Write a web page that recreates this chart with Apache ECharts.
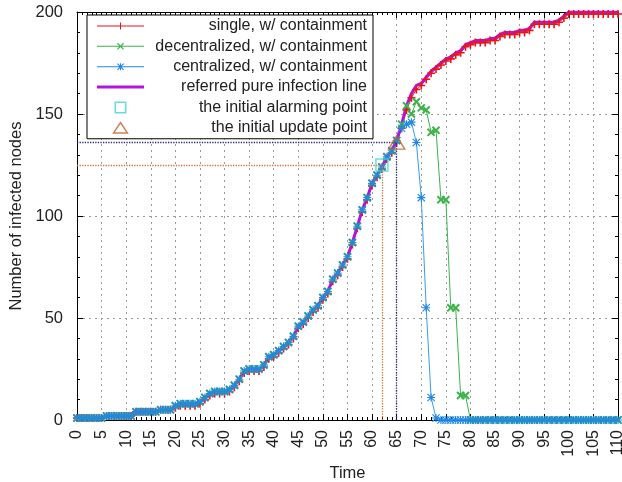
<!DOCTYPE html>
<html>
<head>
<meta charset="utf-8">
<script src="https://cdn.jsdelivr.net/npm/echarts@6/dist/echarts.min.js"></script>
<style>
  html, body { margin: 0; padding: 0; background: #fff; }
  #chart { width: 622px; height: 482px; }
</style>
</head>
<body>
<div id="chart"></div>
<script>
// infected node counts, one value per time step (t = 0..110)
const pureInfection = [
  1, 1, 1, 1, 1, 1, 2, 2, 2, 2, 2, 2, 4, 4, 4, 4, 4, 5, 5, 5,
  7, 8, 8, 8, 8, 9, 11, 13, 14, 14, 14, 15, 17, 20, 24, 25, 25, 25, 27, 31,
  32, 34, 36, 38, 41, 46, 48, 51, 54, 56, 60, 63, 69, 72, 76, 80, 87, 95, 103, 109,
  116, 120, 124, 129, 132, 137, 145, 154, 160, 164, 165, 168, 171, 173, 175, 177, 178, 180, 181, 184,
  185, 186, 186, 186, 187, 187, 189, 190, 190, 190, 191, 191, 192, 195, 195, 195, 195, 195, 196, 198,
  200, 200, 200, 200, 200, 200, 200, 200, 200, 200, 200
]
const singleContain = [
  1, 1, 1, 1, 1, 1, 2, 2, 2, 2, 2, 2, 4, 4, 4, 4, 4, 5, 5, 5,
  6, 7, 7, 7, 7, 8, 10, 12, 13, 13, 13, 14, 16, 19, 23, 24, 24, 24, 26, 30,
  31, 33, 35, 37, 40, 45, 47, 50, 53, 55, 59, 62, 68, 71, 75, 79, 86, 94, 102, 108,
  115, 119, 123, 128, 131, 136, 143, 152, 158, 162, 164, 167, 170, 172, 174, 176, 177, 179, 180, 183,
  184, 185, 185, 185, 186, 186, 188, 189, 189, 189, 190, 190, 191, 194, 194, 194, 194, 194, 195, 197,
  199, 199, 199, 199, 199, 199, 199, 199, 199, 199, 199
]
// containment runs follow the pure line until they split off
const decentralizedStart = 68
const decentralizedTail = [
  150, 156, 153, 152, 141, 142, 108, 108, 55, 55, 12, 12, 0, 0, 0, 0, 0, 0, 0, 0,
  0, 0, 0, 0, 0, 0, 0, 0, 0, 0, 0, 0, 0, 0, 0, 0, 0, 0, 0, 0,
  0, 0, 0
]
const centralizedStart = 66
const centralizedTail = [
  143, 145, 146, 136, 109, 55, 11, 1, 0, 0, 0, 0, 0, 0, 0, 0, 0, 0, 0, 0,
  0, 0, 0, 0, 0, 0, 0, 0, 0, 0, 0, 0, 0, 0, 0, 0, 0, 0, 0, 0,
  0, 0, 0, 0, 0
]
const alarmPoint = [62, 125]
const updatePoint = [65, 136]

const legendNames = [
  'single, w/ containment',
  'decentralized, w/ containment',
  'centralized, w/ containment',
  'referred pure infection line',
  'the initial alarming point',
  'the initial update point'
]

const decentralized = pureInfection.slice(0, decentralizedStart).concat(decentralizedTail)
const centralized = pureInfection.slice(0, centralizedStart).concat(centralizedTail)
const toPairs = arr => arr.map((v, t) => [t, v])

// marker glyphs
const plusPath = 'path://M4,0H6V4H10V6H6V10H4V6H0V4H4Z'
const starPath = 'path://M4.3,0H5.7V10H4.3Z M0,4.3H10V5.7H0Z M0,1L1,0L10,9L9,10Z M9,0L10,1L1,10L0,9Z'

// legend icons, drawn in a 47x20 box (corner points keep the box size)
const box = 'M0,0L0,0Z M47,20L47,20Z '
const thinLine = 'M0,9.5H47V10.5H0Z '
const vBar = 'M23,6.5H24V13.5H23Z '
const xBars = 'M20,7.3L20.8,6.5L27,12.7L26.2,13.5Z M26.2,6.5L27,7.3L20.8,13.5L20,12.7Z '
const legendIcons = [
  'path://' + box + thinLine + vBar,
  'path://' + box + thinLine + xBars,
  'path://' + box + thinLine + vBar + xBars,
  'path://' + box + 'M0,8.5H47V11.5H0Z',
  'path://' + box + 'M17.5,4H29.5V16H17.5Z M19,5.5V14.5H28V5.5Z',
  'path://' + box + 'M23.5,3.5L31.8,16H15.2Z M23.5,6.3L17.9,14.6H29.1Z'
]
const legendColors = ['#e8141c', '#3cb44a', '#2088e8', '#b414dc', '#3cd8d4', '#c0602a']

const labelColor = '#222'
const font = 'Liberation Sans, Arial, sans-serif'

const xBase = {
  type: 'value', min: 0, max: 110, interval: 5,
  axisLine: { show: true, onZero: false, lineStyle: { color: '#000', width: 1 } },
  axisTick: { show: true, inside: true, length: 6, lineStyle: { color: '#000' } },
  minorTick: { show: true, splitNumber: 5, length: 3, lineStyle: { color: '#000' } },
  splitLine: { show: false }
}
const yBase = {
  type: 'value', min: 0, max: 200, interval: 50,
  axisLine: { show: true, onZero: false, lineStyle: { color: '#000', width: 1 } },
  axisTick: { show: true, inside: true, length: 6, lineStyle: { color: '#000' } },
  minorTick: { show: true, splitNumber: 5, length: 3, lineStyle: { color: '#000' } },
  splitLine: { show: false }
}
const gridLine = { show: true, lineStyle: { color: '#9a9a9a', type: [2, 4], width: 1 } }

const chart = echarts.init(document.getElementById('chart'), null, { renderer: 'canvas' })
chart.setOption({
  animation: false,
  backgroundColor: '#fff',
  textStyle: { fontFamily: font },
  grid: { left: 77, right: 4, top: 12, bottom: 62, containLabel: false, outerBoundsMode: 'none' },
  legend: {
    orient: 'vertical',
    left: 87,
    top: 15,
    padding: [1, 6, 1, 10],
    backgroundColor: '#fff',
    borderColor: '#000',
    borderWidth: 1,
    borderRadius: 0,
    itemWidth: 47,
    itemHeight: 20,
    itemGap: 0.35,
    itemTextGap: 5,
    selectedMode: false,
    formatter: name => '{a|' + name + '}',
    textStyle: {
      fontFamily: font,
      fontSize: 16,
      color: labelColor,
      rich: { a: { width: 218, align: 'right', fontSize: 16, lineHeight: 20, color: labelColor, fontFamily: font } }
    },
    data: legendNames.map((name, i) => ({
      name: name,
      icon: legendIcons[i],
      itemStyle: { color: legendColors[i], borderWidth: 0, borderColor: 'transparent' }
    }))
  },
  xAxis: [
    Object.assign({}, xBase, {
      position: 'bottom',
      name: 'Time',
      nameLocation: 'middle',
      nameGap: 42,
      nameTextStyle: { fontSize: 16.5, color: labelColor, fontFamily: font },
      axisLabel: { rotate: 90, margin: 10, fontSize: 16, color: labelColor, fontFamily: font },
      splitLine: gridLine
    }),
    Object.assign({}, xBase, { position: 'top', axisLabel: { show: false } })
  ],
  yAxis: [
    Object.assign({}, yBase, {
      position: 'left',
      name: 'Number of infected nodes',
      nameLocation: 'middle',
      nameGap: 51,
      nameTextStyle: { fontSize: 16.5, color: labelColor, fontFamily: font },
      axisLabel: { margin: 14, fontSize: 16.5, color: labelColor, fontFamily: font },
      splitLine: gridLine
    }),
    Object.assign({}, yBase, { position: 'right', axisLabel: { show: false } })
  ],
  series: [
    {
      name: legendNames[0],
      type: 'line',
      data: toPairs(singleContain),
      symbol: plusPath,
      symbolSize: 8,
      showSymbol: true,
      showAllSymbol: true,
      itemStyle: { color: legendColors[0] },
      lineStyle: { color: legendColors[0], width: 1 }
    },
    {
      name: legendNames[1],
      type: 'line',
      data: toPairs(decentralized),
      symbol: plusPath,
      symbolRotate: 45,
      symbolSize: 10,
      showSymbol: true,
      showAllSymbol: true,
      itemStyle: { color: legendColors[1] },
      lineStyle: { color: legendColors[1], width: 1 }
    },
    {
      name: legendNames[2],
      type: 'line',
      data: toPairs(centralized),
      symbol: starPath,
      symbolSize: 8,
      showSymbol: true,
      showAllSymbol: true,
      itemStyle: { color: legendColors[2] },
      lineStyle: { color: '#3c9be8', width: 1 }
    },
    {
      name: legendNames[3],
      type: 'line',
      data: toPairs(pureInfection),
      symbol: 'none',
      itemStyle: { color: legendColors[3] },
      lineStyle: { color: legendColors[3], width: 3 }
    },
    {
      name: legendNames[4],
      type: 'scatter',
      data: [alarmPoint],
      symbol: 'rect',
      symbolSize: 12,
      z: 5,
      itemStyle: { color: 'rgba(255,255,255,0)', borderColor: legendColors[4], borderWidth: 1.5 },
      markLine: {
        silent: true,
        symbol: 'none',
        label: { show: false },
        lineStyle: { color: '#d0703c', type: 'dotted', width: 1.3 },
        data: [
          [{ coord: [0, alarmPoint[1]] }, { coord: alarmPoint }],
          [{ coord: [alarmPoint[0], 0] }, { coord: alarmPoint }]
        ]
      }
    },
    {
      name: legendNames[5],
      type: 'scatter',
      data: [updatePoint],
      symbol: 'triangle',
      symbolSize: [16, 13],
      z: 5,
      itemStyle: { color: 'rgba(255,255,255,0)', borderColor: legendColors[5], borderWidth: 1.5 },
      markLine: {
        silent: true,
        symbol: 'none',
        label: { show: false },
        lineStyle: { color: '#2a2a80', type: 'dotted', width: 1.3 },
        data: [
          [{ coord: [0, updatePoint[1]] }, { coord: updatePoint }],
          [{ coord: [updatePoint[0], 0] }, { coord: updatePoint }]
        ]
      }
    }
  ]
})
</script>
</body>
</html>
